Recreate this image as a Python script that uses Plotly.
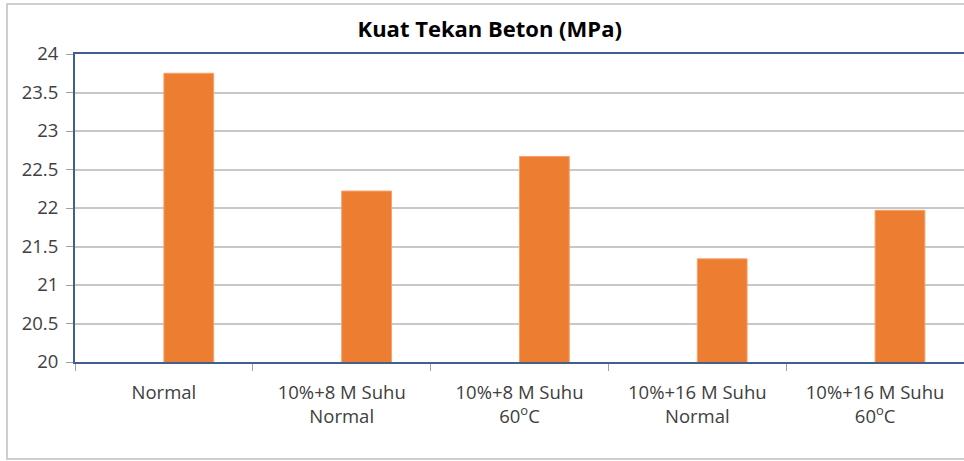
import plotly.graph_objects as go

categories = [
    "Normal",
    "10%+8 M Suhu<br>Normal",
    "10%+8 M Suhu<br>60<sup>o</sup>C",
    "10%+16 M Suhu<br>Normal",
    "10%+16 M Suhu<br>60<sup>o</sup>C",
]
values = [23.75, 22.22, 22.67, 21.34, 21.97]
y_ticks = [20, 20.5, 21, 21.5, 22, 22.5, 23, 23.5, 24]

axis_color = "#41608f"
text_color = "#404040"
font_family = "Open Sans"

fig = go.Figure()
fig.add_trace(go.Bar(
    x=categories,
    y=values,
    base=0,
    width=0.28,
    offset=0,
    marker=dict(color="#ED7D31", line=dict(color="#F4A26E", width=1)),
    showlegend=False,
))

fig.update_layout(
    width=964,
    height=461,
    autosize=False,
    paper_bgcolor="white",
    plot_bgcolor="white",
    margin=dict(l=75, r=0, t=54, b=99, autoexpand=False),
    title=dict(
        text="<b>Kuat Tekan Beton (MPa)</b>",
        x=0.508, xanchor="center", xref="container",
        y=1 - 29 / 461, yref="container", yanchor="middle",
        font=dict(family=font_family, size=22, color="#000000"),
    ),
    font=dict(family=font_family, size=18.5, color=text_color),
)

fig.update_xaxes(
    type="category",
    showline=True, linecolor=axis_color, linewidth=2,
    mirror=True,
    ticks="outside", tickson="boundaries", ticklen=7, tickcolor="#a0a0a0",
    showgrid=False,
    tickfont=dict(family=font_family, size=18.5, color=text_color),
    ticklabelstandoff=13,
)
fig.update_yaxes(
    range=[20, 24],
    tickvals=y_ticks,
    ticktext=[f"{v:g}" for v in y_ticks],
    showline=True, linecolor=axis_color, linewidth=2,
    ticks="outside", ticklen=7, tickcolor="#a0a0a0",
    showgrid=True, gridcolor="#c8c8c8", gridwidth=2,
    tickfont=dict(family=font_family, size=18.5, color=text_color),
    ticklabelstandoff=4,
    zeroline=False,
)

# outer chart frame (partially visible in the reference crop)
fig.add_shape(
    type="rect", xref="paper", yref="paper",
    x0=-68 / 889, x1=1.05, y0=-97 / 308, y1=(54 - 4) / 308 + 1,
    line=dict(color="#bfbfbf", width=1.5), fillcolor="rgba(0,0,0,0)",
    layer="below",
)

fig.write_html(
    "out.html",
    config={"responsive": False, "displayModeBar": False},
    post_script="document.body.style.margin='0';document.body.style.overflow='hidden';",
)
